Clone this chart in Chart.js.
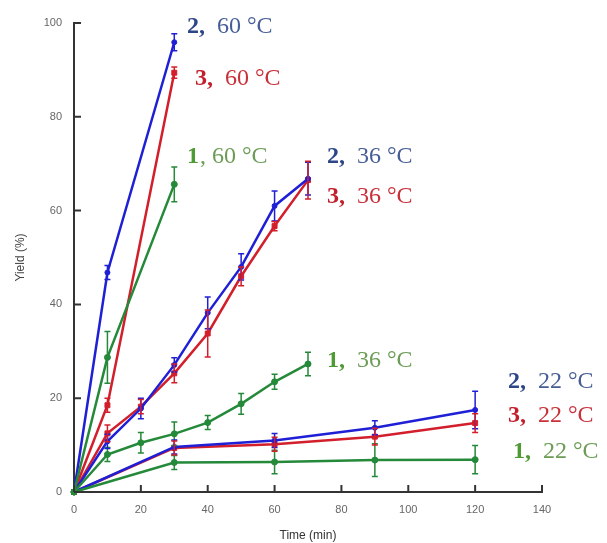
<!DOCTYPE html>
<html>
<head>
<meta charset="utf-8">
<script src="https://cdn.jsdelivr.net/npm/chart.js@4.4.0/dist/chart.umd.min.js"></script>
<style>
  html, body { margin: 0; padding: 0; background: #fff; }
  #wrap { width: 607px; height: 543px; position: relative; }
</style>
</head>
<body>
<div id="wrap"><canvas id="yieldChart"></canvas></div>
<script>
// time points (min)
const t60 = [0, 10, 30];
const t36 = [0, 10, 20, 30, 40, 50, 60, 70];
const t22 = [0, 30, 60, 90, 120];

// yield (%) and error (+/-) per catalyst and temperature
const y2_60 = [0, 46.8, 95.9];
const e2_60 = [0, 1.5, 1.8];
const y3_60 = [0, 18.5, 89.4];
const e3_60 = [0, 1.5, 1.2];
const y1_60 = [0, 28.7, 65.6];
const e1_60 = [0, 5.5, 3.7];

const y2_36 = [0, 10.8, 17.8, 27.1, 38.2, 48.0, 61.0, 66.8];
const e2_36 = [0, 1.5, 2.2, 1.5, 3.4, 2.8, 3.2, 3.5];
const y3_36 = [0, 12.5, 18.2, 25.3, 33.8, 46.0, 56.7, 66.5];
const e3_36 = [0, 1.8, 1.5, 2.0, 5.0, 2.0, 1.0, 4.0];
const y1_36 = [0, 8.0, 10.5, 12.4, 14.8, 18.8, 23.5, 27.3];
const e1_36 = [0, 1.5, 2.2, 2.5, 1.5, 2.2, 1.6, 2.5];

const y2_22 = [0, 9.6, 11.0, 13.7, 17.5];
const e2_22 = [0, 1.5, 1.5, 1.5, 4.0];
const y3_22 = [0, 9.4, 10.2, 11.8, 14.7];
const e3_22 = [0, 1.5, 1.5, 1.8, 2.0];
const y1_22 = [0, 6.3, 6.4, 6.8, 6.9];
const e1_22 = [0, 1.5, 2.5, 3.5, 3.0];

const xTicks = [0, 20, 40, 60, 80, 100, 120, 140];
const yTicks = [0, 20, 40, 60, 80, 100];

const BLUE = '#1f1fd6';
const RED = '#d21f2b';
const GREEN = '#25893a';

function pts(xs, ys) {
    return xs.map((x, i) => ({ x: x, y: ys[i] }));
}

function series(xs, ys, errs, color, shape, r) {
    return {
        data: pts(xs, ys),
        errors: errs,
        borderColor: color,
        backgroundColor: color,
        borderWidth: 2.5,
        pointStyle: shape,
        pointRadius: r,
        pointBorderWidth: 1,
        showLine: true,
        tension: 0,
        clip: false
    };
}

const datasets = [
    series(t60, y1_60, e1_60, GREEN, 'circle', 3),
    series(t36, y1_36, e1_36, GREEN, 'circle', 3),
    series(t22, y1_22, e1_22, GREEN, 'circle', 3),
    series(t60, y2_60, e2_60, BLUE, 'circle', 2.5),
    series(t36, y2_36, e2_36, BLUE, 'circle', 2.5),
    series(t22, y2_22, e2_22, BLUE, 'circle', 2.5),
    series(t60, y3_60, e3_60, RED, 'rect', 3.5),
    series(t36, y3_36, e3_36, RED, 'rect', 3.5),
    series(t22, y3_22, e3_22, RED, 'rect', 3.5)
];

// text annotations: [bold part, rest, x, baseline, bold colour, rest colour]
const notes = [
    ['2,', '60 \u00B0C', 187, 33, '#2d4688', '#465d97'],
    ['3,', '60 \u00B0C', 195, 85, '#c11f2c', '#c8303a'],
    ['1', ', 60 \u00B0C', 187, 163, '#4f9a35', '#6c9c55'],
    ['2,', '36 \u00B0C', 327, 163, '#2d4688', '#465d97'],
    ['3,', '36 \u00B0C', 327, 203, '#c11f2c', '#c8303a'],
    ['1,', '36 \u00B0C', 327, 367, '#4f9a35', '#6c9c55'],
    ['2,', '22 \u00B0C', 508, 388, '#2d4688', '#465d97'],
    ['3,', '22 \u00B0C', 508, 422, '#c11f2c', '#c8303a'],
    ['1,', '22 \u00B0C', 513, 458, '#4f9a35', '#6c9c55']
];

const errorBars = {
    id: 'errorBars',
    afterDatasetsDraw(chart) {
        const ctx = chart.ctx;
        const xs = chart.scales.x, ys = chart.scales.y;
        ctx.save();
        chart.data.datasets.forEach(ds => {
            ctx.strokeStyle = ds.borderColor;
            ctx.lineWidth = 1.5;
            ds.data.forEach((p, i) => {
                const e = ds.errors[i];
                if (!e) return;
                const px = xs.getPixelForValue(p.x);
                const top = ys.getPixelForValue(p.y + e);
                const bot = ys.getPixelForValue(p.y - e);
                ctx.beginPath();
                ctx.moveTo(px, top); ctx.lineTo(px, bot);
                ctx.moveTo(px - 3, top); ctx.lineTo(px + 3, top);
                ctx.moveTo(px - 3, bot); ctx.lineTo(px + 3, bot);
                ctx.stroke();
            });
        });
        ctx.restore();
    }
};

const innerTicks = {
    id: 'innerTicks',
    afterDraw(chart) {
        const ctx = chart.ctx;
        const xs = chart.scales.x, ys = chart.scales.y;
        const a = chart.chartArea;
        ctx.save();
        ctx.strokeStyle = '#333';
        ctx.lineWidth = 2;
        ctx.beginPath();
        xTicks.forEach(v => {
            const px = xs.getPixelForValue(v);
            ctx.moveTo(px, a.bottom); ctx.lineTo(px, a.bottom - 7);
        });
        yTicks.forEach(v => {
            const py = ys.getPixelForValue(v);
            ctx.moveTo(a.left, py); ctx.lineTo(a.left + 7, py);
        });
        ctx.stroke();
        ctx.restore();
    }
};

const labelText = {
    id: 'labelText',
    afterDraw(chart) {
        const ctx = chart.ctx;
        ctx.save();
        ctx.textBaseline = 'alphabetic';
        notes.forEach(n => {
            ctx.font = 'bold 24px "Liberation Serif"';
            ctx.fillStyle = n[4];
            ctx.fillText(n[0], n[2], n[3]);
            const w = ctx.measureText(n[0]).width;
            ctx.font = '24px "Liberation Serif"';
            ctx.fillStyle = n[5];
            const gap = n[1].charAt(0) === ',' ? 1 : 12;
            ctx.fillText(n[1], n[2] + w + gap, n[3]);
        });
        ctx.restore();
    }
};

new Chart(document.getElementById('yieldChart'), {
    type: 'scatter',
    data: { datasets: datasets },
    options: {
        responsive: true,
        maintainAspectRatio: false,
        animation: false,
        layout: { padding: { left: 0, top: 23, right: 65, bottom: 0 } },
        plugins: {
            legend: { display: false },
            tooltip: { enabled: false }
        },
        scales: {
            x: {
                type: 'linear',
                min: 0,
                max: 140,
                afterFit: s => { s.height = 51; },
                afterBuildTicks: s => { s.ticks = xTicks.map(v => ({ value: v })); },
                grid: { display: false, drawTicks: false },
                border: { display: true, color: '#333', width: 2 },
                ticks: { color: '#666', padding: 11, font: { family: 'Liberation Sans', size: 11 } },
                title: {
                    display: true, text: 'Time (min)', color: '#333',
                    font: { family: 'Liberation Sans', size: 12 }, padding: { top: 2, bottom: 0 }
                }
            },
            y: {
                type: 'linear',
                min: 0,
                max: 100,
                afterFit: s => { s.width = 74; },
                afterBuildTicks: s => { s.ticks = yTicks.map(v => ({ value: v })); },
                grid: { display: false, drawTicks: false },
                border: { display: true, color: '#333', width: 2 },
                ticks: { color: '#666', padding: 12, font: { family: 'Liberation Sans', size: 11 } },
                title: {
                    display: true, text: 'Yield (%)', color: '#444',
                    font: { family: 'Liberation Sans', size: 12 }, padding: { top: 13, bottom: 0 }
                }
            }
        }
    },
    plugins: [errorBars, innerTicks, labelText]
});
</script>
</body>
</html>
